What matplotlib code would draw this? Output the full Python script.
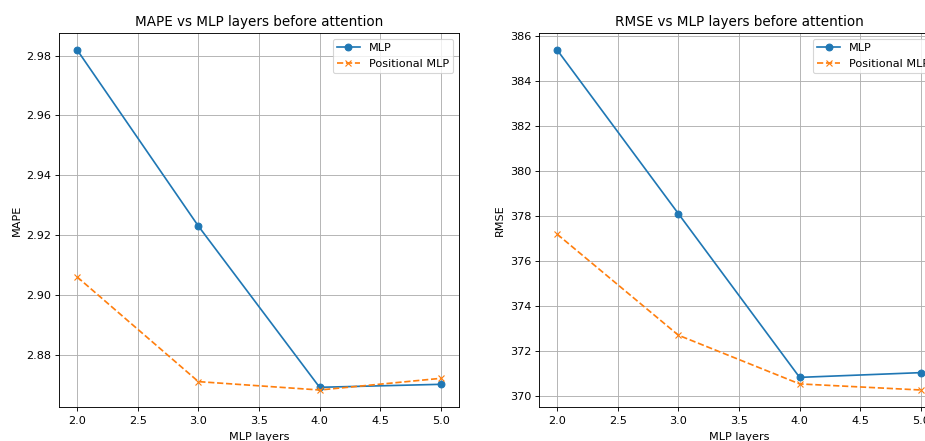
import matplotlib
matplotlib.use('Agg')
import matplotlib.pyplot as plt

layers = [2, 3, 4, 5]
mape_mlp = [2.9819, 2.9230, 2.8691, 2.8701]
mape_pos = [2.9060, 2.8710, 2.8682, 2.8721]
rmse_mlp = [385.36, 378.10, 370.84, 371.05]
rmse_pos = [377.19, 372.71, 370.55, 370.28]


def draw(ax, mlp, pos, metric):
    ax.plot(layers, mlp, marker='o', label='MLP')
    ax.plot(layers, pos, marker='x', linestyle='--', label='Positional MLP')
    ax.set_title(metric + ' vs MLP layers before attention')
    ax.set_xlabel('MLP layers', labelpad=5)
    ax.set_ylabel(metric)
    ax.tick_params(axis='x', pad=4.5)
    ax.grid(True)
    ax.legend(loc='upper right')


# the original was rendered larger and scaled down, so use a low dpi
dpi = 81
fig = plt.figure(figsize=(926 / dpi, 441 / dpi), dpi=dpi)
# the right panel runs past the figure edge, as in the cropped original
ax1 = fig.add_axes([59 / 926, 34 / 441, 400 / 926, 374 / 441])
ax2 = fig.add_axes([539 / 926, 34 / 441, 400 / 926, 374 / 441])

draw(ax1, mape_mlp, mape_pos, 'MAPE')
draw(ax2, rmse_mlp, rmse_pos, 'RMSE')

fig.savefig('out.png', dpi=dpi)
